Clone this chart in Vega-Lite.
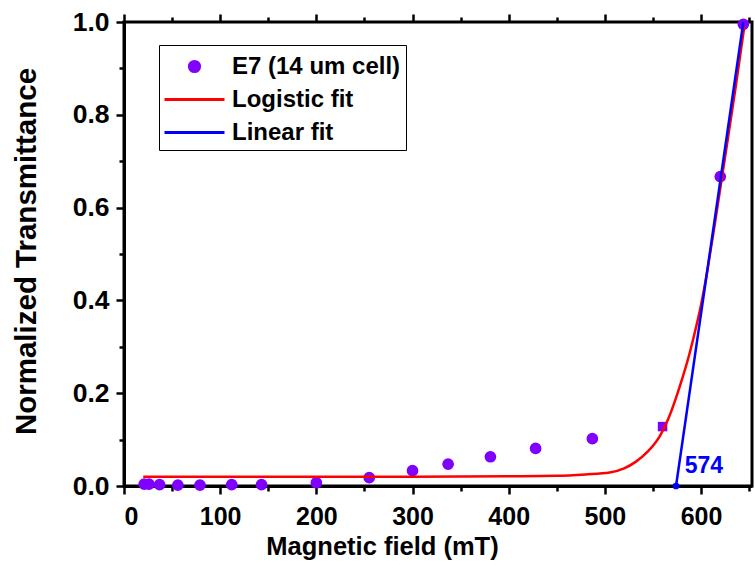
{
  "$schema": "https://vega.github.io/schema/vega-lite/v6.json",
  "width": 628,
  "height": 464,
  "autosize": "none",
  "padding": {"left": 124, "top": 22, "right": 3, "bottom": 102},
  "background": "white",
  "config": {
    "font": "Liberation Sans",
    "view": {"stroke": "black", "strokeWidth": 3},
    "axis": {
      "grid": false,
      "domainColor": "black",
      "domainWidth": 3,
      "tickColor": "black",
      "tickWidth": 2.5,
      "labelFont": "Liberation Sans",
      "labelFontWeight": "bold",
      "labelFontSize": 25,
      "labelColor": "black",
      "titleFont": "Liberation Sans",
      "titleFontWeight": "bold",
      "titleColor": "black",
      "zindex": 1
    },
    "legend": {
      "orient": "none",
      "legendX": 35,
      "legendY": 23,
      "title": null,
      "padding": 5,
      "strokeColor": "black",
      "symbolSize": 900,
      "symbolStrokeWidth": 3,
      "symbolOpacity": 1,
      "symbolOffset": 14,
      "labelFont": "Liberation Sans",
      "labelFontSize": 24,
      "labelFontWeight": "bold",
      "labelColor": "black",
      "labelOffset": 21,
      "rowPadding": 4,
      "labelLimit": 400
    }
  },
  "datasets": {
    "e7": [
      {"B": 21, "T": 0.004, "series": "E7 (14 um cell)"},
      {"B": 26, "T": 0.004, "series": "E7 (14 um cell)"},
      {"B": 37, "T": 0.003, "series": "E7 (14 um cell)"},
      {"B": 56, "T": 0.002, "series": "E7 (14 um cell)"},
      {"B": 79, "T": 0.002, "series": "E7 (14 um cell)"},
      {"B": 112, "T": 0.003, "series": "E7 (14 um cell)"},
      {"B": 143, "T": 0.003, "series": "E7 (14 um cell)"},
      {"B": 200, "T": 0.007, "series": "E7 (14 um cell)"},
      {"B": 255, "T": 0.018, "series": "E7 (14 um cell)"},
      {"B": 300, "T": 0.033, "series": "E7 (14 um cell)"},
      {"B": 337, "T": 0.047, "series": "E7 (14 um cell)"},
      {"B": 381, "T": 0.063, "series": "E7 (14 um cell)"},
      {"B": 428, "T": 0.081, "series": "E7 (14 um cell)"},
      {"B": 487, "T": 0.102, "series": "E7 (14 um cell)"},
      {"B": 620, "T": 0.667, "series": "E7 (14 um cell)"},
      {"B": 644, "T": 0.995, "series": "E7 (14 um cell)"}
    ],
    "square": [
      {"B": 560, "T": 0.128}
    ],
    "logistic": [
      {"B": 20, "T": 0.02, "series": "Logistic fit"},
      {"B": 100, "T": 0.02, "series": "Logistic fit"},
      {"B": 200, "T": 0.02, "series": "Logistic fit"},
      {"B": 300, "T": 0.02, "series": "Logistic fit"},
      {"B": 400, "T": 0.021, "series": "Logistic fit"},
      {"B": 450, "T": 0.022, "series": "Logistic fit"},
      {"B": 480, "T": 0.025, "series": "Logistic fit"},
      {"B": 505, "T": 0.029, "series": "Logistic fit"},
      {"B": 520, "T": 0.038, "series": "Logistic fit"},
      {"B": 532, "T": 0.052, "series": "Logistic fit"},
      {"B": 545, "T": 0.075, "series": "Logistic fit"},
      {"B": 557, "T": 0.107, "series": "Logistic fit"},
      {"B": 566, "T": 0.145, "series": "Logistic fit"},
      {"B": 574, "T": 0.19, "series": "Logistic fit"},
      {"B": 581, "T": 0.235, "series": "Logistic fit"},
      {"B": 588, "T": 0.285, "series": "Logistic fit"},
      {"B": 594, "T": 0.335, "series": "Logistic fit"},
      {"B": 600, "T": 0.39, "series": "Logistic fit"},
      {"B": 607, "T": 0.47, "series": "Logistic fit"},
      {"B": 614, "T": 0.56, "series": "Logistic fit"},
      {"B": 621, "T": 0.655, "series": "Logistic fit"},
      {"B": 628, "T": 0.75, "series": "Logistic fit"},
      {"B": 636, "T": 0.86, "series": "Logistic fit"},
      {"B": 645, "T": 0.99, "series": "Logistic fit"}
    ],
    "linear": [
      {"B": 574, "T": 0, "series": "\u2002Linear fit"},
      {"B": 644, "T": 1.0, "series": "\u2002Linear fit"}
    ],
    "label": [
      {"B": 583, "T": 0.027, "text": "574"}
    ]
  },
  "layer": [
    {
      "data": {"name": "e7"},
      "mark": {"type": "point", "filled": true, "opacity": 1, "size": 900, "strokeWidth": 1.5},
      "encoding": {
        "x": {"field": "B", "type": "quantitative", "scale": {"domain": [0, 653], "nice": false, "zero": false},
          "axis": {"orient": "top", "values": [0, 100, 200, 300, 400, 500, 600], "labels": false, "domain": false, "tickSize": 8, "title": null}},
        "y": {"field": "T", "type": "quantitative", "scale": {"domain": [0, 1], "nice": false, "zero": false}, "axis": null},
        "color": {
          "field": "series", "type": "nominal",
          "scale": {"domain": ["E7 (14 um cell)", "Logistic fit", "\u2002Linear fit"], "range": ["#8000ff", "#ff0000", "#0000ff"]}
        },
        "stroke": {
          "field": "series", "type": "nominal",
          "scale": {"domain": ["E7 (14 um cell)", "Logistic fit", "\u2002Linear fit"], "range": ["#8000ff", "#ff0000", "#0000ff"]}
        },
        "shape": {
          "field": "series", "type": "nominal",
          "scale": {"domain": ["E7 (14 um cell)", "Logistic fit", "\u2002Linear fit"], "range": ["M-0.34,0A0.34,0.34,0,1,0,0.34,0A0.34,0.34,0,1,0,-0.34,0Z", "M-2,0L2,0", "M-2,0L2,0"]}
        }
      }
    },
    {
      "data": {"name": "square"},
      "mark": {"type": "square", "filled": true, "opacity": 1, "size": 90, "color": "#8000ff"},
      "encoding": {
        "x": {"field": "B", "type": "quantitative", "scale": {"domain": [0, 653], "nice": false, "zero": false},
          "axis": {"orient": "top", "values": [50, 150, 250, 350, 450, 550, 650], "labels": false, "domain": false, "tickSize": 5, "title": null}},
        "y": {"field": "T", "type": "quantitative", "scale": {"domain": [0, 1], "nice": false, "zero": false}, "axis": null}
      }
    },
    {
      "data": {"name": "logistic"},
      "mark": {"type": "line", "strokeWidth": 2.5, "interpolate": "monotone"},
      "encoding": {
        "x": {"field": "B", "type": "quantitative", "scale": {"domain": [0, 653], "nice": false, "zero": false},
          "axis": {"orient": "bottom", "values": [0, 100, 200, 300, 400, 500, 600], "format": "d", "tickSize": 8, "labelPadding": 10,
            "title": "Magnetic field (mT)", "titleFontSize": 25.5, "titleX": 258, "titleY": 68, "titleBaseline": "alphabetic", "titleAlign": "center"}},
        "y": {"field": "T", "type": "quantitative", "scale": {"domain": [0, 1], "nice": false, "zero": false},
          "axis": {"orient": "left", "values": [0, 0.2, 0.4, 0.6, 0.8, 1.0], "format": ".1f", "tickSize": 8, "labelPadding": 7, "labelFontSize": 26.5,
            "title": "Normalized Transmittance", "titleFontSize": 29.5, "titleX": -89, "titleY": 229, "titleBaseline": "alphabetic", "titleAlign": "center", "titleAngle": -90}},
        "color": {"field": "series", "type": "nominal"}
      }
    },
    {
      "data": {"name": "linear"},
      "mark": {"type": "line", "strokeWidth": 2.5},
      "encoding": {
        "x": {"field": "B", "type": "quantitative", "scale": {"domain": [0, 653], "nice": false, "zero": false},
          "axis": {"orient": "bottom", "values": [50, 150, 250, 350, 450, 550, 650], "labels": false, "domain": false, "tickSize": 5, "title": null}},
        "y": {"field": "T", "type": "quantitative", "scale": {"domain": [0, 1], "nice": false, "zero": false},
          "axis": {"orient": "left", "values": [0.1, 0.3, 0.5, 0.7, 0.9], "labels": false, "domain": false, "tickSize": 5, "title": null}},
        "color": {"field": "series", "type": "nominal"}
      }
    },
    {
      "data": {"name": "linear"},
      "transform": [{"filter": "datum.T == 0"}],
      "mark": {"type": "point", "filled": true, "opacity": 1, "size": 45, "color": "#0000ff"},
      "encoding": {
        "x": {"field": "B", "type": "quantitative", "scale": {"domain": [0, 653], "nice": false, "zero": false}, "axis": null},
        "y": {"field": "T", "type": "quantitative", "scale": {"domain": [0, 1], "nice": false, "zero": false}, "axis": null}
      }
    },
    {
      "data": {"name": "label"},
      "mark": {"type": "text", "align": "left", "baseline": "alphabetic", "font": "Liberation Sans", "fontWeight": "bold", "fontSize": 23, "color": "#0000ff"},
      "encoding": {
        "x": {"field": "B", "type": "quantitative", "scale": {"domain": [0, 653], "nice": false, "zero": false}, "axis": null},
        "y": {"field": "T", "type": "quantitative", "scale": {"domain": [0, 1], "nice": false, "zero": false}, "axis": null},
        "text": {"field": "text"}
      }
    }
  ],
  "resolve": {"axis": {"x": "independent", "y": "independent"}}
}
